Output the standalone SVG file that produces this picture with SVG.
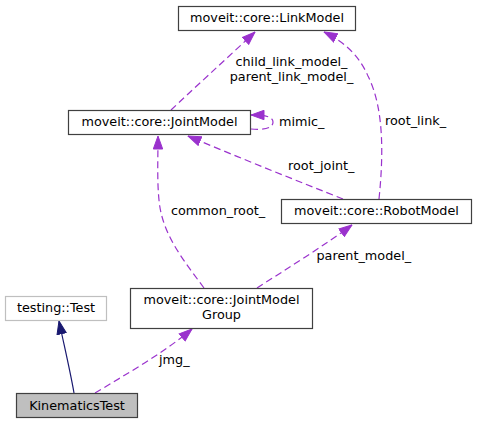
<svg xmlns="http://www.w3.org/2000/svg" width="477" height="424" viewBox="0 0 477 424">
<style>
.n{fill:#ffffff;stroke:#404040;stroke-width:1.2}
.t{font-family:"DejaVu Sans",sans-serif;font-size:12.8px;fill:#000000}
.m{text-anchor:middle}
.e{fill:none;stroke:#9a32cd;stroke-width:1.2;stroke-dasharray:7,4}
.s{fill:none;stroke:#191970;stroke-width:1.2}
</style>
<defs>
<marker id="ap" markerUnits="userSpaceOnUse" markerWidth="14" markerHeight="11" viewBox="0 0 14 11" refX="13.5" refY="5.5" orient="auto">
<path d="M0.5,0.8 L13.5,5.5 L0.5,10.2 z" fill="#9a32cd" stroke="#9a32cd"/>
</marker>
<marker id="an" markerUnits="userSpaceOnUse" markerWidth="14" markerHeight="11" viewBox="0 0 14 11" refX="13.5" refY="5.5" orient="auto">
<path d="M0.5,0.8 L13.5,5.5 L0.5,10.2 z" fill="#191970" stroke="#191970"/>
</marker>
</defs>
<rect width="477" height="424" fill="#ffffff"/>
<g id="edges">
<path class="e" d="M171,110 C190,92 225,60 255,32" marker-end="url(#ap)"/>
<path class="e" d="M379,199 C383,160 385,110 368,76 C360,58 348,44 324,32" marker-end="url(#ap)"/>
<path class="e" d="M251,129 C262,130 273,129 273,122 C273,117 266,115 251,115" marker-end="url(#ap)"/>
<path class="e" d="M343,199 C300,182 240,158 188,136" marker-end="url(#ap)"/>
<path class="e" d="M204,288 C185,262 162,235 159,200 C157,180 158,160 158,136" marker-end="url(#ap)"/>
<path class="e" d="M257,288 C285,270 325,245 352,225" marker-end="url(#ap)"/>
<path class="e" d="M95,393 C125,375 165,352 192,329" marker-end="url(#ap)"/>
<path class="s" d="M74,393 C70,370 64,345 59,321" marker-end="url(#an)"/>
<text class="t m" x="291.5" y="66">child_link_model_</text>
<text class="t m" x="291.5" y="81">parent_link_model_</text>
<text class="t" x="385" y="125">root_link_</text>
<text class="t" x="279" y="126">mimic_</text>
<text class="t" x="288" y="170">root_joint_</text>
<text class="t" x="171" y="215">common_root_</text>
<text class="t" x="316.5" y="260">parent_model_</text>
<text class="t" x="159" y="364">jmg_</text>
</g>
<g id="LinkModel">
<rect class="n" x="178.5" y="6.5" width="177" height="24"/>
<text class="t m" x="267" y="22">moveit::core::LinkModel</text>
</g>
<g id="JointModel">
<rect class="n" x="68.5" y="110.5" width="182" height="24"/>
<text class="t m" x="159.5" y="126">moveit::core::JointModel</text>
</g>
<g id="RobotModel">
<rect class="n" x="281.5" y="199.5" width="190" height="24"/>
<text class="t m" x="376.5" y="215">moveit::core::RobotModel</text>
</g>
<g id="JointModelGroup">
<rect class="n" x="130.5" y="288.5" width="182" height="40"/>
<text class="t m" x="221.5" y="303.5">moveit::core::JointModel</text>
<text class="t m" x="221.5" y="319">Group</text>
</g>
<g id="TestingTest">
<rect x="5.5" y="296.5" width="101" height="24" fill="#ffffff" stroke="#bfbfbf" stroke-width="1.2"/>
<text class="t m" x="56" y="312">testing::Test</text>
</g>
<g id="KinematicsTest">
<rect x="16.5" y="393.5" width="121" height="24" fill="#bfbfbf" stroke="#404040" stroke-width="1.2"/>
<text class="t m" x="77" y="409.5">KinematicsTest</text>
</g>
</svg>
